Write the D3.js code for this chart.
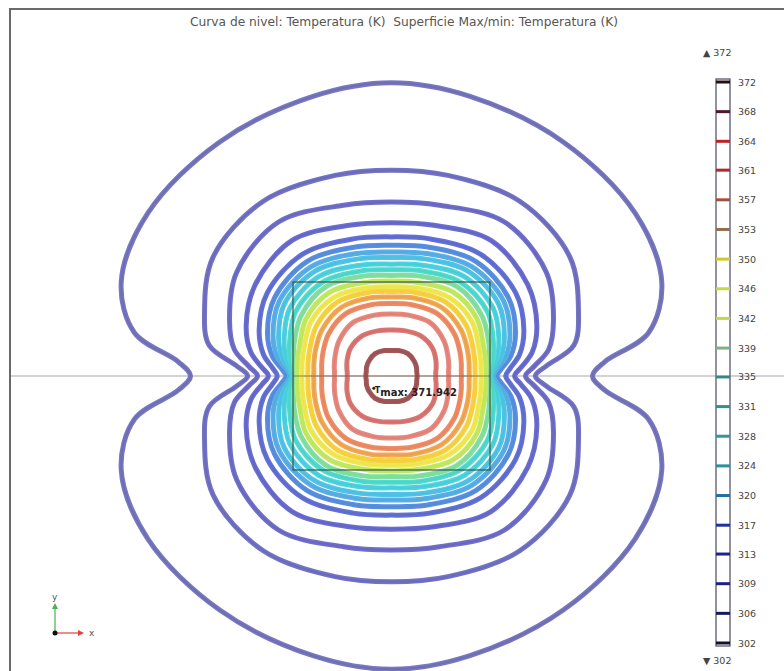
<!DOCTYPE html>
<html>
<head>
<meta charset="utf-8">
<script src="https://cdn.jsdelivr.net/npm/d3@7/dist/d3.min.js"></script>
<style>
    body { margin: 0; background: white; }
    svg { display: block; }
    .title { font-family: "DejaVu Sans", sans-serif; font-size: 11.5px; fill: #555; }
    .legend text { font-family: "DejaVu Sans", sans-serif; font-size: 9.5px; fill: #444; }
    .triad text { font-family: "DejaVu Sans", sans-serif; font-size: 9px; fill: #555; }
    .maxlabel { font-family: "DejaVu Sans", sans-serif; font-size: 10px; fill: #2a2020; font-weight: bold; }
</style>
</head>
<body>
<div id="chart"></div>
<script>
    // contour levels (K) and the labels shown in the colour legend
    var levels = [302, 305.7, 309.4, 313.1, 316.7, 320.4, 324.1, 327.8, 331.5, 335.2,
                  338.8, 342.5, 346.2, 349.9, 353.6, 357.3, 361.0, 364.6, 368.3, 372];
    var tickLabels = ["302", "306", "309", "313", "317", "320", "324", "328", "331", "335",
                      "339", "342", "346", "350", "353", "357", "361", "364", "368", "372"];
    var tMax = 371.942;

    // angles (deg, from the horizontal axis) where the contour radii were read
    var sampleAngles = [0, 4, 10, 20, 35, 55, 75, 90];
    // radius of each contour (square half-side = 1) at those angles
    var contourRadii = [
        [2.04, 2.17, 2.65, 2.92, 3.02, 3.04, 3.08, 3.12],
        [1.46, 1.58, 1.88, 2.02, 2.21, 2.27, 2.21, 2.19],
        [1.36, 1.45, 1.62, 1.75, 1.92, 2.00, 1.88, 1.85],
        [1.25, 1.32, 1.45, 1.57, 1.69, 1.76, 1.66, 1.63],
        [1.16, 1.21, 1.32, 1.43, 1.54, 1.58, 1.51, 1.48],
        [1.07, 1.12, 1.23, 1.34, 1.45, 1.49, 1.42, 1.39],
        [1.05, 1.09, 1.18, 1.28, 1.39, 1.42, 1.35, 1.32],
        [1.03, 1.06, 1.13, 1.22, 1.33, 1.36, 1.29, 1.26],
        [1.02, 1.04, 1.09, 1.16, 1.26, 1.29, 1.22, 1.19],
        [1.01, 1.02, 1.05, 1.10, 1.19, 1.22, 1.16, 1.13],
        [0.99, 1.00, 1.01, 1.05, 1.12, 1.16, 1.10, 1.07],
        [0.96, 0.96, 0.97, 0.99, 1.06, 1.09, 1.03, 1.01],
        [0.91, 0.91, 0.92, 0.94, 1.00, 1.02, 0.97, 0.95],
        [0.85, 0.85, 0.86, 0.88, 0.93, 0.96, 0.92, 0.90],
        [0.79, 0.79, 0.80, 0.82, 0.86, 0.89, 0.86, 0.84],
        [0.71, 0.71, 0.72, 0.74, 0.78, 0.81, 0.785, 0.77],
        [0.58, 0.58, 0.59, 0.61, 0.65, 0.69, 0.67, 0.66],
        [0.45, 0.45, 0.46, 0.48, 0.51, 0.52, 0.50, 0.49],
        [0.26, 0.26, 0.26, 0.27, 0.28, 0.29, 0.28, 0.27],
        null
    ];

    // colours
    var lineColors = ["#7878c2", "#7474c6", "#7070ca", "#6a6ece", "#6472d4", "#5a8ee0", "#5aaee8",
                      "#50c4e8", "#4cd4e0", "#50dcd0", "#80e0a0", "#c0e860", "#f0e850", "#f8d040",
                      "#f4a850", "#f08c64", "#e68a80", "#d87874", "#a45858", "#702030"];
    var legendColors = ["#101030", "#181860", "#202080", "#202090", "#2030a0", "#2070a0", "#2890a0",
                        "#309898", "#309090", "#308888", "#80b080", "#c0d850", "#c8d840", "#d0c830",
                        "#907050", "#a05040", "#b02828", "#c02020", "#501530", "#201010"];

    var W = 784, H = 671;
    var svg = d3.select("#chart").append("svg")
        .attr("width", W)
        .attr("height", H);

    // model coordinates: the heated square spans -1..1 in both directions
    var x = d3.scaleLinear().domain([-1, 1]).range([293, 490]);
    var y = d3.scaleLinear().domain([-1, 1]).range([470, 282]);

    // frame
    svg.append("rect")
        .attr("x", 10).attr("y", 9)
        .attr("width", 800).attr("height", 700)
        .attr("fill", "none")
        .attr("stroke", "#6a6a6a")
        .attr("stroke-width", 2);

    svg.append("text")
        .attr("class", "title")
        .attr("x", 190).attr("y", 26)
        .attr("textLength", 428)
        .attr("lengthAdjust", "spacingAndGlyphs")
        .text("Curva de nivel: Temperatura (K)\u00a0\u00a0Superficie Max/min: Temperatura (K)");

    // horizontal symmetry line
    svg.append("line")
        .attr("x1", 11).attr("x2", W)
        .attr("y1", y(0)).attr("y2", y(0))
        .attr("stroke", "#c4c4c4")
        .attr("stroke-width", 1.5);

    function contourPoints(r) {
        var pts = [];
        var n = sampleAngles.length;
        for (var q = 0; q < 4; q++) {
            for (var k = 0; k < n - 1; k++) {
                var idx = q % 2 === 0 ? k : n - 1 - k;
                var a = sampleAngles[idx];
                var phi = (q * 90 + (q % 2 === 0 ? a : 90 - a)) * Math.PI / 180;
                pts.push([r[idx] * Math.cos(phi), r[idx] * Math.sin(phi)]);
            }
        }
        return pts;
    }

    var line = d3.line()
        .x(function (d) { return x(d[0]); })
        .y(function (d) { return y(d[1]); })
        .curve(d3.curveCatmullRomClosed.alpha(0.5));

    var contourData = levels.map(function (lv, i) {
        return { level: lv, i: i, r: contourRadii[i] };
    }).filter(function (d) { return d.r; });

    var g = svg.append("g").attr("class", "contours");

    g.selectAll("path.tube")
        .data(contourData)
        .enter().append("path")
        .attr("class", "tube")
        .attr("d", function (d) { return line(contourPoints(d.r)); })
        .attr("fill", "none")
        .attr("stroke", function (d) { return lineColors[d.i]; })
        .attr("stroke-width", 5)
        .attr("stroke-linejoin", "round");

    g.selectAll("path.core")
        .data(contourData)
        .enter().append("path")
        .attr("class", "core")
        .attr("d", function (d) { return line(contourPoints(d.r)); })
        .attr("fill", "none")
        .attr("stroke", function (d) { return d3.interpolateRgb(lineColors[d.i], legendColors[d.i])(0.1); })
        .attr("stroke-width", 2);

    // heated square and the line segment through it
    svg.append("line")
        .attr("x1", x(-1)).attr("x2", x(1))
        .attr("y1", y(0)).attr("y2", y(0))
        .attr("stroke", "#7a4a3a")
        .attr("stroke-opacity", 0.7)
        .attr("stroke-width", 1.2);

    svg.append("rect")
        .attr("x", x(-1)).attr("y", y(1))
        .attr("width", x(1) - x(-1)).attr("height", y(-1) - y(1))
        .attr("fill", "none")
        .attr("stroke", "#34584c")
        .attr("stroke-width", 1.2);

    // max marker
    var mx = x(-0.18), my = y(-0.13);
    svg.append("circle")
        .attr("cx", mx).attr("cy", my).attr("r", 1.5)
        .attr("fill", "#222");
    var mt = svg.append("text")
        .attr("class", "maxlabel")
        .attr("x", mx + 1).attr("y", my + 8);
    mt.append("tspan").attr("font-size", "8px").attr("dy", -3).text("T");
    mt.append("tspan").attr("dy", 3).text("max: " + tMax);

    // colour legend
    var ly = d3.scaleLinear().domain([302, 372]).range([643, 82]);
    var legend = svg.append("g").attr("class", "legend");

    legend.append("rect")
        .attr("x", 716).attr("y", ly(372) - 3)
        .attr("width", 14).attr("height", ly(302) - ly(372) + 6)
        .attr("fill", "white")
        .attr("stroke", "#4a4a66")
        .attr("stroke-width", 1.2);

    legend.selectAll("line.tick")
        .data(levels)
        .enter().append("line")
        .attr("class", "tick")
        .attr("x1", 716).attr("x2", 730)
        .attr("y1", function (d) { return ly(d); })
        .attr("y2", function (d) { return ly(d); })
        .attr("stroke", function (d, i) { return legendColors[i]; })
        .attr("stroke-width", 3);

    legend.selectAll("text.lab")
        .data(levels)
        .enter().append("text")
        .attr("class", "lab")
        .attr("x", 738)
        .attr("y", function (d) { return ly(d) + 3.5; })
        .text(function (d, i) { return tickLabels[i]; });

    legend.append("text")
        .attr("x", 703).attr("y", 56)
        .text("\u25B2 " + tickLabels[tickLabels.length - 1]);
    legend.append("text")
        .attr("x", 703).attr("y", 664)
        .text("\u25BC " + tickLabels[0]);

    // axis triad
    var triad = svg.append("g").attr("class", "triad");
    triad.append("line")
        .attr("x1", 55).attr("y1", 633).attr("x2", 55).attr("y2", 606)
        .attr("stroke", "#4caf50").attr("stroke-width", 1.2);
    triad.append("path")
        .attr("d", "M52,609 L55,603 L58,609 Z").attr("fill", "#4caf50");
    triad.append("line")
        .attr("x1", 55).attr("y1", 633).attr("x2", 80).attr("y2", 633)
        .attr("stroke", "#e04040").attr("stroke-width", 1.2);
    triad.append("path")
        .attr("d", "M78,630 L84,633 L78,636 Z").attr("fill", "#e04040");
    triad.append("circle")
        .attr("cx", 55).attr("cy", 633).attr("r", 2.5).attr("fill", "#111");
    triad.append("text").attr("x", 52).attr("y", 600).text("y");
    triad.append("text").attr("x", 89).attr("y", 636).text("x");
</script>
</body>
</html>
